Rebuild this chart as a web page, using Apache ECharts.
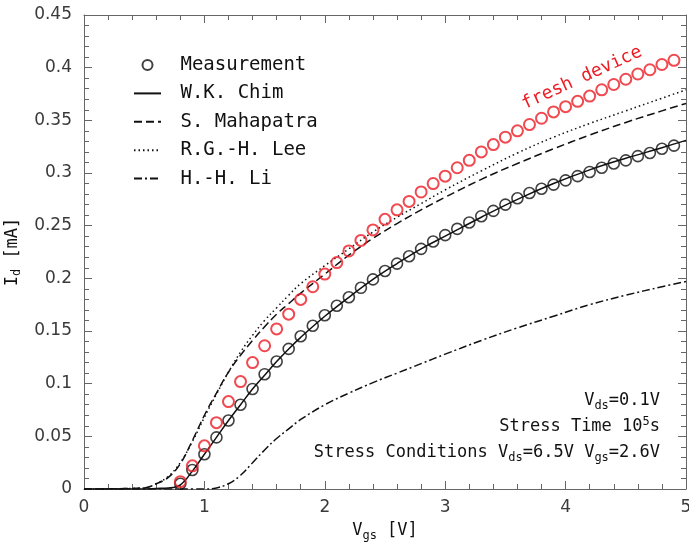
<!DOCTYPE html>
<html>
<head>
<meta charset="utf-8">
<script src="https://cdn.jsdelivr.net/npm/echarts@6/dist/echarts.min.js"></script>
<style>
  html, body { margin: 0; padding: 0; background: #fff; }
  #chartmain { width: 689px; height: 544px; }
</style>
</head>
<body>
<div id="chartmain"></div>
<script>
// measured points (Vgs step 0.1 from 0.8 to 4.9)
var measX = [0.8, 0.9, 1.0, 1.1, 1.2, 1.3, 1.4, 1.5, 1.6, 1.7, 1.8, 1.9, 2.0, 2.1, 2.2, 2.3, 2.4, 2.5, 2.6, 2.7,
    2.8, 2.9, 3.0, 3.1, 3.2, 3.3, 3.4, 3.5, 3.6, 3.7, 3.8, 3.9, 4.0, 4.1, 4.2, 4.3, 4.4, 4.5, 4.6, 4.7, 4.8, 4.9];
var measStressed = [0.005, 0.018, 0.033, 0.049, 0.065, 0.080, 0.095, 0.109, 0.121, 0.133, 0.145, 0.155, 0.165, 0.174,
    0.182, 0.191, 0.199, 0.207, 0.214, 0.221, 0.228, 0.235, 0.241, 0.247, 0.253, 0.259, 0.264, 0.270, 0.276, 0.281,
    0.285, 0.289, 0.293, 0.297, 0.301, 0.305, 0.309, 0.312, 0.316, 0.319, 0.323, 0.326];
var measFresh = [0.007, 0.022, 0.041, 0.063, 0.083, 0.102, 0.120, 0.136, 0.152, 0.166, 0.180, 0.192, 0.204, 0.215,
    0.226, 0.236, 0.246, 0.256, 0.265, 0.273, 0.282, 0.290, 0.297, 0.305, 0.312, 0.320, 0.327, 0.334, 0.340, 0.346,
    0.352, 0.358, 0.363, 0.368, 0.373, 0.379, 0.384, 0.389, 0.394, 0.398, 0.403, 0.407];

// model curves
var modelX = [0, 0.5, 0.6, 0.7, 0.8, 0.9, 1.0, 1.1, 1.2, 1.3, 1.4, 1.5, 1.6, 1.7, 1.8, 2.0, 2.2, 2.4, 2.6, 2.8,
    3.0, 3.3, 3.6, 3.9, 4.2, 4.5, 4.8, 5.0];
var chim = [0, 0, 0.0005, 0.001, 0.004, 0.017, 0.033, 0.049, 0.065, 0.080, 0.095, 0.108, 0.121, 0.133, 0.144,
    0.164, 0.182, 0.199, 0.214, 0.228, 0.240, 0.258, 0.275, 0.290, 0.303, 0.314, 0.324, 0.331];
var mahapatra = [0, 0.001, 0.005, 0.011, 0.024, 0.046, 0.070, 0.091, 0.111, 0.127, 0.141, 0.154, 0.166, 0.176, 0.186,
    0.204, 0.222, 0.238, 0.252, 0.265, 0.277, 0.294, 0.309, 0.323, 0.336, 0.348, 0.359, 0.366];
var lee = [0, 0.001, 0.005, 0.012, 0.025, 0.045, 0.068, 0.090, 0.111, 0.130, 0.146, 0.160, 0.172, 0.184, 0.195,
    0.212, 0.228, 0.244, 0.258, 0.271, 0.284, 0.302, 0.319, 0.334, 0.347, 0.359, 0.371, 0.379];
var li = [0, 0, 0, 0, 0, 0, 0, 0.001, 0.005, 0.013, 0.025, 0.037, 0.048, 0.057, 0.066,
    0.080, 0.091, 0.101, 0.110, 0.119, 0.128, 0.141, 0.153, 0.164, 0.175, 0.184, 0.192, 0.197];

var legendNames = ['Measurement', 'W.K. Chim', 'S. Mahapatra', 'R.G.-H. Lee', 'H.-H. Li'];
var xTicks = [0, 5, 1];
var yTicks = [0, 0.45, 0.05];

function pairs(xs, ys) {
    var out = [];
    for (var i = 0; i < xs.length; i++) out.push([xs[i], ys[i]]);
    return out;
}

var mono = 'DejaVu Sans Mono';
var red = '#ed1c24';
var ink = '#111';
var subRich = {
    n: { fontFamily: mono, fontSize: 17, color: ink },
    s: { fontFamily: mono, fontSize: 12, color: ink, padding: [10, 0, 0, 0] },
    p: { fontFamily: mono, fontSize: 12, color: ink, padding: [0, 0, 10, 0] }
};

function axisBase(showLabel) {
    return {
        axisLine: { show: true, onZero: false, lineStyle: { color: '#666', width: 1 } },
        axisTick: { show: true, inside: true, length: 8, lineStyle: { color: '#666' } },
        minorTick: { show: true, splitNumber: 5, length: 5, lineStyle: { color: '#666' } },
        splitLine: { show: false },
        axisLabel: { show: showLabel, fontFamily: 'DejaVu Sans', fontSize: 17, color: '#3a3a3a' }
    };
}

function lineSeries(name, ys, dash) {
    return {
        name: name,
        type: 'line',
        data: pairs(modelX, ys),
        symbol: 'none',
        smooth: 0.4,
        lineStyle: { color: ink, width: 1.5, type: dash },
        itemStyle: { color: ink },
        z: 2
    };
}

var xBottom = Object.assign(axisBase(true), {
    type: 'value', position: 'bottom', min: xTicks[0], max: xTicks[1], interval: xTicks[2],
    name: '{n|V}{s|gs}{n| [V]}', nameLocation: 'middle', nameGap: 31,
    nameTextStyle: { rich: subRich }
});
xBottom.axisLabel.margin = 10;
var xTop = Object.assign(axisBase(false), {
    type: 'value', position: 'top', min: xTicks[0], max: xTicks[1], interval: xTicks[2]
});
var yLeft = Object.assign(axisBase(true), {
    type: 'value', position: 'left', min: yTicks[0], max: yTicks[1], interval: yTicks[2],
    name: '{n|I}{s|d}{n| [mA]}', nameLocation: 'middle', nameGap: 52, nameRotate: 90,
    nameTextStyle: { rich: subRich }
});
yLeft.axisLabel.margin = 12;
var yRight = Object.assign(axisBase(false), {
    type: 'value', position: 'right', min: yTicks[0], max: yTicks[1], interval: yTicks[2]
});

// legend entries: lines without a marker, measurement as a hollow circle
var legendData = legendNames.map(function (n, i) {
    return i === 0 ? { name: n } : { name: n, itemStyle: { opacity: 0 } };
});

var option = {
    animation: false,
    backgroundColor: '#fff',
    grid: { left: 84, right: 3, top: 15, bottom: 55, containLabel: false, outerBoundsMode: 'none' },
    xAxis: [xBottom, xTop],
    yAxis: [yLeft, yRight],
    legend: {
        data: legendData,
        orient: 'vertical',
        left: 128,
        top: 50,
        itemWidth: 27,
        itemHeight: 10,
        itemGap: 8.4,
        formatter: function (name) { return ' ' + name; },
        textStyle: { fontFamily: mono, fontSize: 19, lineHeight: 20, color: ink, padding: [0, 0, 0, 3] }
    },
    graphic: [
        {
            type: 'text', right: 29, top: 392,
            style: { text: '{n|V}{s|ds}{n|=0.1V}', rich: subRich, fill: ink }
        },
        {
            type: 'text', right: 29, top: 416,
            style: { text: '{n|Stress Time 10}{p|5}{n|s}', rich: subRich, fill: ink }
        },
        {
            type: 'text', right: 29, top: 444,
            style: { text: '{n|Stress Conditions V}{s|ds}{n|=6.5V V}{s|gs}{n|=2.6V}', rich: subRich, fill: ink }
        },
        {
            type: 'text', x: 582, y: 78, rotation: 0.43,
            style: {
                text: 'fresh device', fill: red, font: '18px "DejaVu Sans Mono"',
                align: 'center', verticalAlign: 'middle'
            }
        }
    ],
    series: [
        {
            name: 'Measurement',
            type: 'scatter',
            data: pairs(measX, measStressed),
            symbol: 'circle',
            symbolSize: 11,
            itemStyle: { color: 'rgba(0,0,0,0)', borderColor: ink, borderWidth: 1.6 },
            z: 3
        },
        lineSeries('W.K. Chim', chim, 'solid'),
        lineSeries('S. Mahapatra', mahapatra, [8, 4]),
        lineSeries('R.G.-H. Lee', lee, [1.5, 3]),
        lineSeries('H.-H. Li', li, [8, 3, 2, 3]),
        {
            name: 'fresh device',
            type: 'scatter',
            data: pairs(measX, measFresh),
            symbol: 'circle',
            symbolSize: 11,
            itemStyle: { color: 'rgba(0,0,0,0)', borderColor: red, borderWidth: 2 },
            z: 3
        }
    ]
};

var myChart = echarts.init(document.getElementById('chartmain'));
myChart.setOption(option);
</script>
</body>
</html>
